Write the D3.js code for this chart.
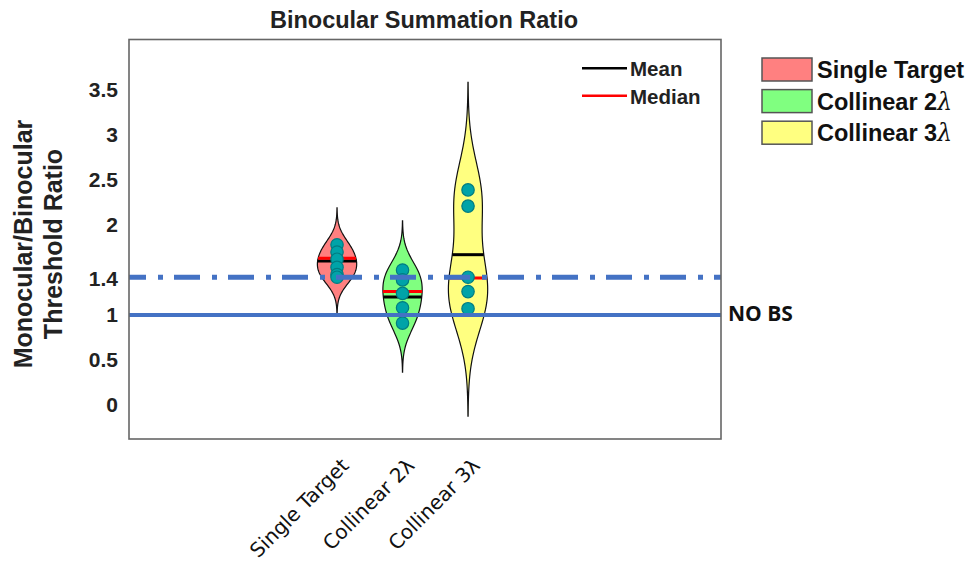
<!DOCTYPE html>
<meta charset="utf-8">
<script src="https://d3js.org/d3.v7.min.js"></script>
<style>
  body { margin: 0; background: #fff; }
  text { font-family: "Liberation Sans", Arial, sans-serif; }
</style>
<body>
<div id="my_dataviz"></div>
<script>

// values
var groups = ["Single Target", "Collinear 2λ", "Collinear 3λ"];
var singleTarget = [1.78, 1.70, 1.62, 1.53, 1.45, 1.42];
var collinear2 = [1.50, 1.39, 1.24, 1.08, 0.91];
var collinear3 = [2.39, 2.21, 1.42, 1.26, 1.07];
var means = [1.60, 1.20, 1.67];
var medians = [1.63, 1.26, 1.41];
var yTicks = [0, 0.5, 1, 1.4, 2, 2.5, 3, 3.5];
var noBsLevel = 1;
var bsLevel = 1.42;

var fills = ["#ff8080", "#80ff80", "#ffff80"];
var series = [singleTarget, collinear2, collinear3];

var svg = d3.select("#my_dataviz")
  .append("svg")
    .attr("width", 980)
    .attr("height", 562);

var x = d3.scaleLinear().domain([-2.176, 6.862]).range([129, 721]);
var y = d3.scaleLinear().domain([-0.378, 4.061]).range([439, 39.5]);

// kernel density like matlab ksdensity (normal kernel, MAD based bandwidth)
function bandwidth(data) {
  var med = d3.median(data);
  var sig = d3.median(data, function(d) { return Math.abs(d - med); }) / 0.6745;
  return sig * Math.pow(4 / (3 * data.length), 0.2);
}
function kde(data, bw) {
  return function(v) {
    return d3.mean(data, function(d) {
      var u = (v - d) / bw;
      return Math.exp(-0.5 * u * u) / Math.sqrt(2 * Math.PI);
    }) / bw;
  };
}

var violinWidth = 0.3;

series.forEach(function(data, i) {
  var c = i + 1;
  var bw = bandwidth(data);
  var f = kde(data, bw);
  var lo = d3.min(data) - 3 * bw, hi = d3.max(data) + 3 * bw;
  var pts = d3.range(101).map(function(k) {
    var v = lo + (hi - lo) * k / 100;
    return {v: v, d: f(v)};
  });
  var maxD = d3.max(pts, function(p) { return p.d; });
  var half = function(v) { return violinWidth * f(v) / maxD; };

  var area = d3.area()
    .x0(function(p) { return x(c - violinWidth * p.d / maxD); })
    .x1(function(p) { return x(c + violinWidth * p.d / maxD); })
    .y(function(p) { return y(p.v); });

  svg.append("path")
    .datum(pts)
    .attr("d", area)
    .style("fill", fills[i])
    .style("stroke", "#111")
    .style("stroke-width", 1.2);

  // mean (black) and median (red)
  svg.append("line")
    .attr("x1", x(c - half(means[i]))).attr("x2", x(c + half(means[i])))
    .attr("y1", y(means[i])).attr("y2", y(means[i]))
    .style("stroke", "#000").style("stroke-width", 3);
  svg.append("line")
    .attr("x1", x(c - half(medians[i]))).attr("x2", x(c + half(medians[i])))
    .attr("y1", y(medians[i])).attr("y2", y(medians[i]))
    .style("stroke", "#ff0000").style("stroke-width", 3);

  svg.append("g")
    .selectAll("circle")
    .data(data)
    .enter()
    .append("circle")
      .attr("cx", x(c))
      .attr("cy", function(d) { return y(d); })
      .attr("r", 6.2)
      .style("fill", "#00a3a8")
      .style("stroke", "#007c82")
      .style("stroke-width", 1.2);
});

// reference lines
svg.append("line")
  .attr("x1", x.range()[0]).attr("x2", x.range()[1])
  .attr("y1", y(bsLevel)).attr("y2", y(bsLevel))
  .style("stroke", "#4472c4").style("stroke-width", 5)
  .style("stroke-dasharray", "26,12,5,11").style("stroke-dashoffset", 9);
svg.append("line")
  .attr("x1", x.range()[0]).attr("x2", x.range()[1])
  .attr("y1", y(noBsLevel)).attr("y2", y(noBsLevel))
  .style("stroke", "#4472c4").style("stroke-width", 4);

// box
svg.append("rect")
  .attr("x", 129).attr("y", 39.5)
  .attr("width", 721 - 129).attr("height", 439 - 39.5)
  .style("fill", "none").style("stroke", "#666").style("stroke-width", 1.6);

// y axis
var yAxis = svg.append("g")
  .attr("transform", "translate(129,0)")
  .call(d3.axisLeft(y).tickValues(yTicks).tickSize(0).tickPadding(11).tickFormat(d3.format("")));
yAxis.select(".domain").remove();
yAxis.selectAll("text")
  .style("font-family", "'Liberation Sans', Arial, sans-serif")
  .style("font-size", "21px").style("font-weight", "bold").style("fill", "#222");

// legend labels get a TeX-like lambda
function addLabel(sel, label) {
  var k = label.indexOf("λ");
  if (k < 0) { sel.text(label); return; }
  sel.append("tspan").text(label.slice(0, k));
  sel.append("tspan").text("λ").style("font-style", "italic").style("font-weight", "normal")
    .style("font-family", "'DejaVu Serif', serif");
}

// x tick labels
groups.forEach(function(g, i) {
  svg.append("text")
    .attr("transform", "translate(" + (x(i + 1) + 13) + ",467) rotate(-45)")
    .style("text-anchor", "end")
    .style("font-family", "'DejaVu Sans', Verdana, sans-serif")
    .style("font-size", "20px").style("fill", "#111")
    .text(g);
});

// title
svg.append("text")
  .attr("x", 424).attr("y", 28)
  .style("text-anchor", "middle")
  .style("font-size", "23.5px").style("font-weight", "bold").style("fill", "#222")
  .text("Binocular Summation Ratio");

// y label
var yl = svg.append("text")
  .attr("transform", "translate(32,244) rotate(-90)")
  .style("text-anchor", "middle")
  .style("font-size", "25px").style("font-weight", "bold").style("fill", "#222");
yl.append("tspan").attr("x", 0).attr("y", 0).text("Monocular/Binocular");
yl.append("tspan").attr("x", 0).attr("y", 30).text("Threshold Ratio");

// NO BS
svg.append("text")
  .attr("x", 728).attr("y", y(noBsLevel) + 6)
  .style("font-family", "'Open Sans', sans-serif")
  .style("font-size", "21px").style("font-weight", "bold").style("fill", "#111")
  .text("NO BS");

// mean/median legend
var statNames = ["Mean", "Median"], statColors = ["#000", "#ff0000"];
statNames.forEach(function(s, i) {
  var yy = 68.3 + i * 27.4;
  svg.append("line").attr("x1", 582).attr("x2", 627).attr("y1", yy).attr("y2", yy)
    .style("stroke", statColors[i]).style("stroke-width", 2.5);
  svg.append("text").attr("x", 630).attr("y", yy + 8)
    .style("font-size", "20.5px").style("font-weight", "bold").style("fill", "#222")
    .text(s);
});

// group legend
groups.forEach(function(g, i) {
  var yy = 58 + i * 31.6;
  svg.append("rect").attr("x", 762).attr("y", yy).attr("width", 50).attr("height", 23)
    .style("fill", fills[i]).style("stroke", "#555").style("stroke-width", 1.5);
  var t = svg.append("text").attr("x", 817).attr("y", yy + 20)
    .style("font-size", "23.5px").style("font-weight", "bold").style("fill", "#111");
  addLabel(t, g);
});

</script>
</body>
